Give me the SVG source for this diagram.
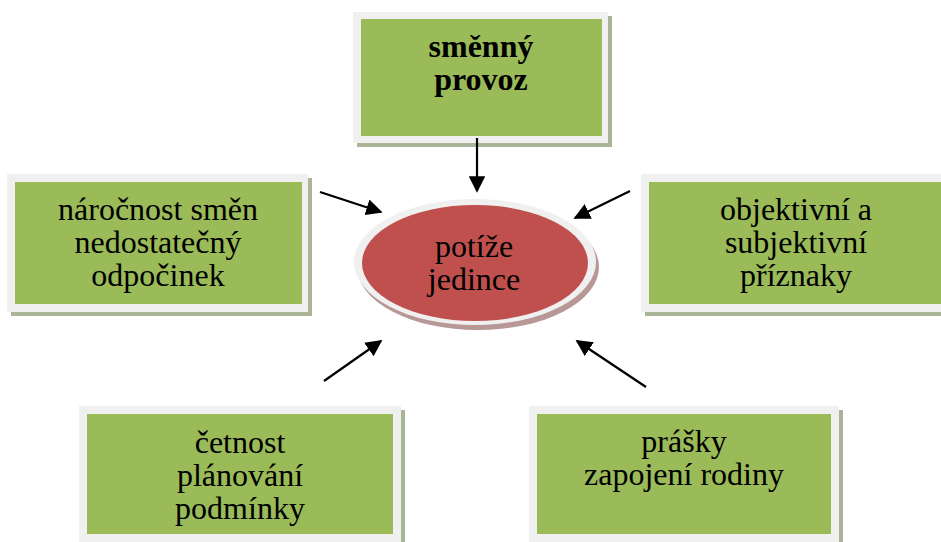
<svg xmlns="http://www.w3.org/2000/svg" width="941" height="542" viewBox="0 0 941 542">
<style>
.shadow{fill:#aab597}
.frame{fill:#f0f0f0}
.inner{fill:#9bbb59}
.t{font-family:"Liberation Serif","Times New Roman",serif;font-size:32px;fill:#000;text-anchor:middle}
.b{font-weight:bold}
.c{stroke:#000;stroke-width:2.2;fill:none;marker-end:url(#ah)}
</style>
<defs>
<marker id="ah" viewBox="0 0 10 10" refX="9" refY="5" markerWidth="7.5" markerHeight="7.5" markerUnits="strokeWidth" orient="auto">
<path d="M0,0 L10,5 L0,10 z" fill="#000"/>
</marker>
</defs>
<rect width="941" height="542" fill="#fff"/>
<g id="node-smenny">
<rect class="shadow" x="357" y="16" width="255" height="131"/>
<rect class="frame" x="353" y="12" width="255" height="131"/>
<rect class="inner" x="361" y="19" width="241" height="117"/>
<text class="t b" x="481" y="57">směnný</text>
<text class="t b" x="481" y="90">provoz</text>
</g>
<g id="node-narocnost">
<rect class="shadow" x="11" y="178" width="301" height="138"/>
<rect class="frame" x="7" y="174" width="301" height="138"/>
<rect class="inner" x="15" y="182" width="287" height="122"/>
<text class="t" x="158" y="220">náročnost směn</text>
<text class="t" x="158" y="253">nedostatečný</text>
<text class="t" x="158" y="286">odpočinek</text>
</g>
<g id="node-priznaky">
<rect class="shadow" x="645" y="178" width="310" height="138"/>
<rect class="frame" x="641" y="174" width="310" height="138"/>
<rect class="inner" x="649" y="182" width="300" height="122"/>
<text class="t" x="796" y="220">objektivní a</text>
<text class="t" x="796" y="253">subjektivní</text>
<text class="t" x="796" y="286">příznaky</text>
</g>
<g id="node-cetnost">
<rect class="shadow" x="83" y="410" width="322" height="140"/>
<rect class="frame" x="79" y="406" width="322" height="140"/>
<rect class="inner" x="87" y="414" width="306" height="120"/>
<text class="t" x="240" y="453">četnost</text>
<text class="t" x="240" y="486">plánování</text>
<text class="t" x="240" y="519">podmínky</text>
</g>
<g id="node-prasky">
<rect class="shadow" x="533" y="410" width="310" height="140"/>
<rect class="frame" x="529" y="406" width="310" height="140"/>
<rect class="inner" x="537" y="414" width="294" height="120"/>
<text class="t" x="684" y="452">prášky</text>
<text class="t" x="684" y="485">zapojení rodiny</text>
</g>
<g id="node-potize">
<ellipse cx="478" cy="267" rx="121" ry="63" fill="#b89797"/>
<ellipse cx="475" cy="262" rx="121" ry="63" fill="#f0f0f0"/>
<ellipse cx="475" cy="263" rx="113" ry="58" fill="#c0504d"/>
<text class="t" x="474" y="257">potíže</text>
<text class="t" x="474" y="290">jedince</text>
</g>
<g id="connectors">
<line class="c" x1="477" y1="138" x2="477" y2="191"/>
<line class="c" x1="320" y1="192" x2="381" y2="212"/>
<line class="c" x1="630" y1="191" x2="575" y2="218"/>
<line class="c" x1="324" y1="381" x2="381" y2="341"/>
<line class="c" x1="646" y1="387" x2="577" y2="341"/>
</g>
</svg>
